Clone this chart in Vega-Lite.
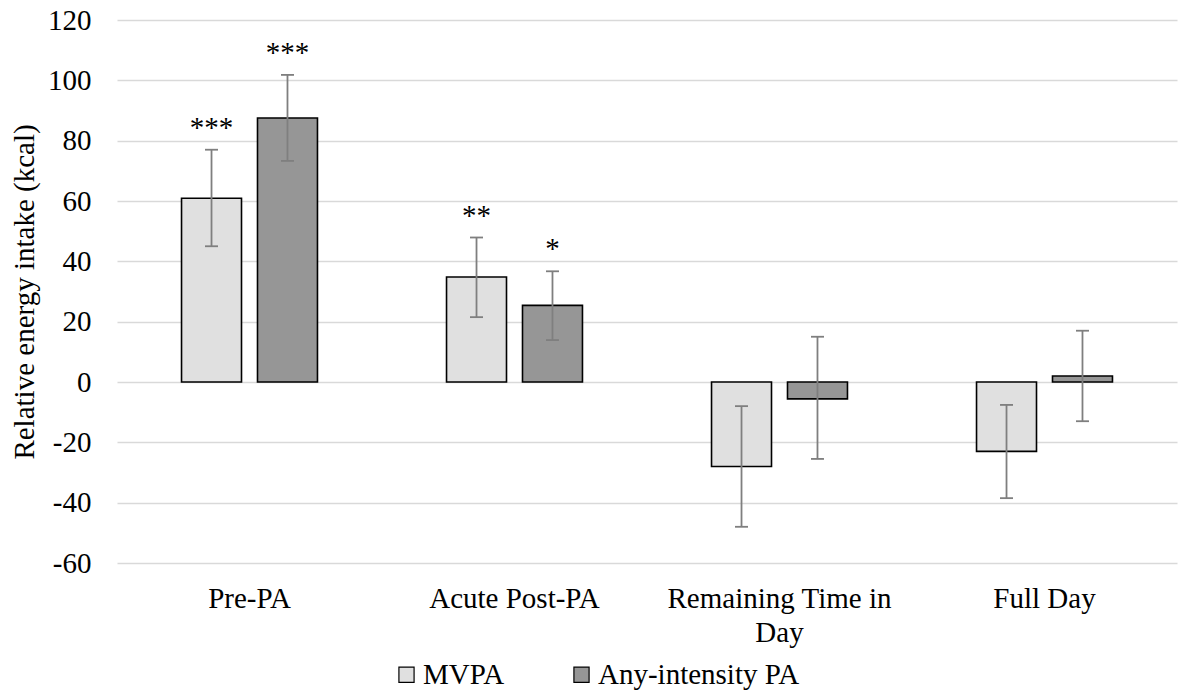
{
  "$schema": "https://vega.github.io/schema/vega-lite/v6.json",
  "width": 1060,
  "height": 543,
  "autosize": {"type": "none"},
  "padding": {"left": 117, "top": 20, "right": 2, "bottom": 131},
  "background": "white",
  "config": {
    "view": {"stroke": null},
    "font": "Liberation Serif",
    "text": {"font": "Liberation Serif"},
    "axis": {
      "labelFont": "Liberation Serif",
      "labelFontSize": 29,
      "labelColor": "#000000",
      "titleFont": "Liberation Serif",
      "titleFontSize": 29,
      "titleFontWeight": "normal",
      "titleColor": "#000000"
    },
    "legend": {
      "labelFont": "Liberation Serif",
      "labelFontSize": 29,
      "labelColor": "#000000"
    }
  },
  "data": {
    "values": [
      {"period": "Pre-PA", "group": "MVPA", "value": 60.9, "lo": 45.0, "hi": 77.0, "sig": "***"},
      {"period": "Pre-PA", "group": "Any-intensity PA", "value": 87.5, "lo": 73.3, "hi": 101.8, "sig": "***"},
      {"period": "Acute Post-PA", "group": "MVPA", "value": 34.8, "lo": 21.5, "hi": 47.9, "sig": "**"},
      {"period": "Acute Post-PA", "group": "Any-intensity PA", "value": 25.4, "lo": 13.9, "hi": 36.7, "sig": "*"},
      {"period": "Remaining Time in Day", "group": "MVPA", "value": -28.0, "lo": -48.0, "hi": -8.0, "sig": ""},
      {"period": "Remaining Time in Day", "group": "Any-intensity PA", "value": -5.6, "lo": -25.5, "hi": 15.0, "sig": ""},
      {"period": "Full Day", "group": "MVPA", "value": -23.0, "lo": -38.5, "hi": -7.6, "sig": ""},
      {"period": "Full Day", "group": "Any-intensity PA", "value": 2.0, "lo": -13.0, "hi": 17.0, "sig": ""}
    ]
  },
  "encoding": {
    "x": {
      "field": "period",
      "type": "nominal",
      "sort": ["Pre-PA", "Acute Post-PA", "Remaining Time in Day", "Full Day"],
      "scale": {"paddingInner": 0.487, "paddingOuter": 0.2435},
      "axis": {
        "title": null,
        "domain": false,
        "ticks": false,
        "labelAngle": 0,
        "labelPadding": 21,
        "labelLineHeight": 34,
        "labelLimit": 400,
        "labelExpr": "datum.label == 'Remaining Time in Day' ? ['Remaining Time in', 'Day'] : datum.label"
      }
    },
    "xOffset": {
      "field": "group",
      "type": "nominal",
      "sort": ["MVPA", "Any-intensity PA"],
      "scale": {"paddingInner": 0.2105, "paddingOuter": 0}
    }
  },
  "layer": [
    {
      "mark": {"type": "bar", "stroke": "#000000", "strokeWidth": 1.6},
      "encoding": {
        "y": {
          "field": "value",
          "type": "quantitative",
          "scale": {"domain": [-60, 120], "nice": false, "zero": false},
          "axis": {
            "title": "Relative energy intake (kcal)",
            "values": [-60, -40, -20, 0, 20, 40, 60, 80, 100, 120],
            "labelExpr": "'' + datum.value",
            "domain": false,
            "ticks": false,
            "grid": true,
            "gridColor": "#d9d9d9",
            "gridWidth": 1.4,
            "labelPadding": 26,
            "labelFont": "Liberation Serif, Times New Roman, serif",
            "titleFont": "Liberation Serif, Times New Roman, serif",
            "titleAngle": -90,
            "titleBaseline": "alphabetic",
            "titleAlign": "center",
            "titleX": -84,
            "titleY": 271.5
          }
        },
        "color": {
          "field": "group",
          "type": "nominal",
          "sort": ["MVPA", "Any-intensity PA"],
          "scale": {"domain": ["MVPA", "Any-intensity PA"], "range": ["#e0e0e0", "#969696"]},
          "legend": {
            "title": null,
            "orient": "none",
            "direction": "horizontal",
            "legendX": 275,
            "legendY": 640,
            "symbolType": "square",
            "symbolSize": 230,
            "symbolStrokeColor": "#000000",
            "symbolStrokeWidth": 1.2,
            "symbolOpacity": 1,
            "labelOffset": 2,
            "columnPadding": 62,
            "labelLimit": 400
          }
        }
      }
    },
    {
      "mark": {"type": "rule", "color": "#7f7f7f", "strokeWidth": 1.8},
      "encoding": {
        "y": {"field": "lo", "type": "quantitative"},
        "y2": {"field": "hi"}
      }
    },
    {
      "mark": {"type": "tick", "color": "#7f7f7f", "thickness": 1.8, "size": 13, "opacity": 1},
      "encoding": {
        "y": {"field": "lo", "type": "quantitative"}
      }
    },
    {
      "mark": {"type": "tick", "color": "#7f7f7f", "thickness": 1.8, "size": 13, "opacity": 1},
      "encoding": {
        "y": {"field": "hi", "type": "quantitative"}
      }
    },
    {
      "mark": {"type": "text", "font": "Liberation Serif", "fontSize": 29, "color": "#000000", "baseline": "alphabetic", "align": "center", "dy": -13},
      "encoding": {
        "y": {"field": "hi", "type": "quantitative"},
        "text": {"field": "sig", "type": "nominal"}
      }
    }
  ]
}
